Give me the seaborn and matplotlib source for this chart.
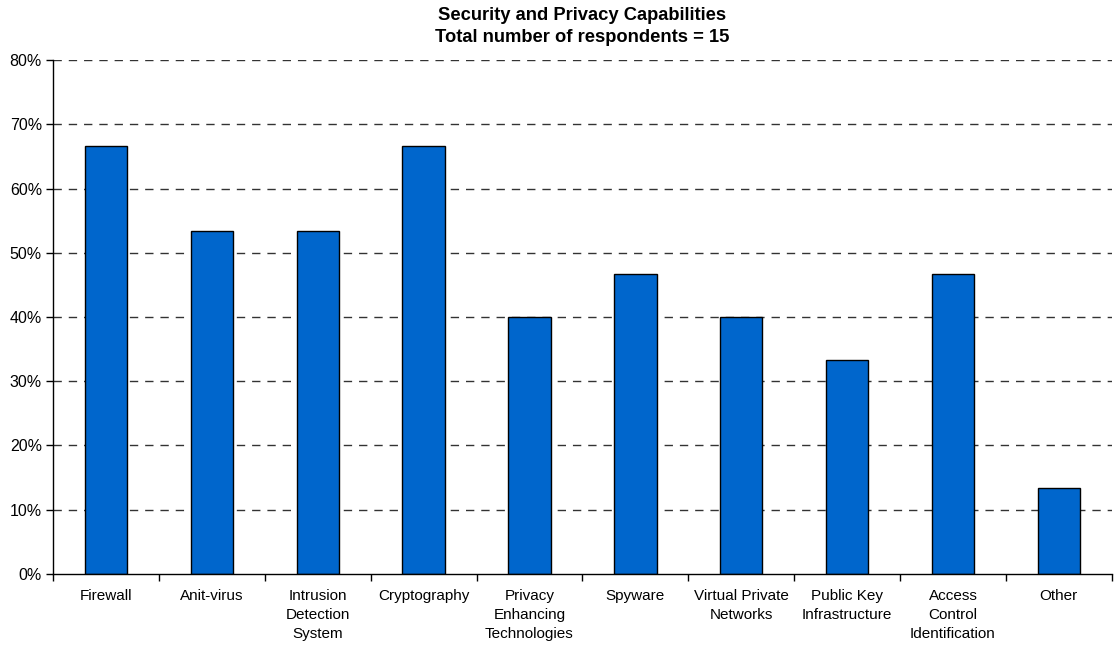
import matplotlib
matplotlib.use("Agg")
import matplotlib.pyplot as plt
import seaborn as sns
import pandas as pd
import numpy as np
from matplotlib.ticker import FixedLocator, PercentFormatter

categories = ["Firewall", "Anit-virus", "Intrusion\nDetection\nSystem", "Cryptography",
              "Privacy\nEnhancing\nTechnologies", "Spyware", "Virtual Private\nNetworks",
              "Public Key\nInfrastructure", "Access\nControl\nIdentification", "Other"]
counts = [10, 8, 8, 10, 6, 7, 6, 5, 7, 2]
total = 15
values = [c / total * 100 for c in counts]

sns.set_theme(style="white")
plt.rcParams['font.family'] = ['Liberation Sans', 'DejaVu Sans']

df = pd.DataFrame({"cat": categories, "val": values})
fig = plt.figure(figsize=(11.14, 6.46), dpi=100)
ax = fig.add_axes([0.0476, 0.1115, 0.9504, 0.7955])
sns.barplot(data=df, x="cat", y="val", color="#0066CC", width=0.4,
            edgecolor="black", linewidth=1, saturation=1, ax=ax, zorder=3)

ax.set_ylim(0, 80)
ax.set_xlim(-0.5, len(categories) - 0.5)
ax.set_yticks(np.arange(10, 81, 10))
ax.set_yticks([0], minor=True)
ax.yaxis.set_major_formatter(PercentFormatter(decimals=0))
ax.yaxis.set_minor_formatter(PercentFormatter(decimals=0))
ax.yaxis.grid(True, which="major", linestyle=(0, (6, 5)), color="#333333", linewidth=1, zorder=0)
ax.set_axisbelow(True)
for s in ["top", "right"]:
    ax.spines[s].set_visible(False)
for s in ["left", "bottom"]:
    ax.spines[s].set_color("black")
    ax.spines[s].set_linewidth(1)
    ax.spines[s].set_zorder(5)

ax.set_xlabel("")
ax.set_ylabel("")
ax.tick_params(axis="x", which="major", length=0, pad=11, labelsize=11, colors="black")
ax.xaxis.set_minor_locator(FixedLocator(np.arange(-0.5, len(categories), 1.0)))
ax.tick_params(axis="x", which="minor", length=5, width=1, color="black", direction="out", bottom=True)
ax.tick_params(axis="y", which="both", length=5, width=1, color="black", direction="out", left=True,
               labelsize=11.5, colors="black", pad=3)
for lbl in ax.get_xticklabels():
    lbl.set_verticalalignment("top")
    lbl.set_linespacing(1.45)

ax.set_title("Security and Privacy Capabilities\nTotal number of respondents = " + str(total),
             fontsize=13.2, fontweight="bold", pad=13, color="black", linespacing=1.4)

fig.savefig("out.png", dpi=100)
